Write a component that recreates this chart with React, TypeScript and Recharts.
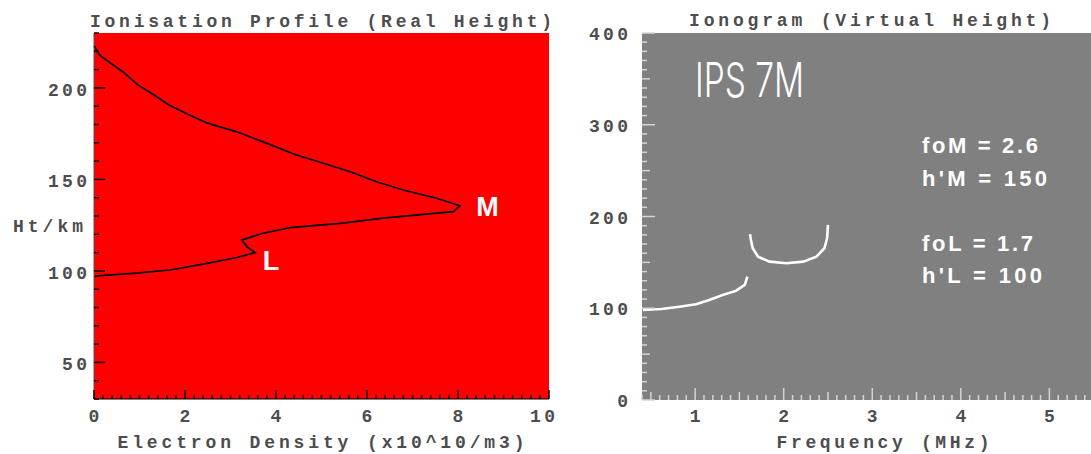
import { LineChart, Line, XAxis, YAxis, ReferenceDot } from "recharts"

// ionisation profile: electron density (x10^10/m3) against real height (km)
const profileDensity = [0, 0.13, 0.64, 0.97, 1.27, 1.63, 2.11, 2.51, 3.14, 3.72, 4.45, 5.04, 5.63, 6.21, 6.8, 7.53, 8.04, 7.9, 7.24, 6.36, 5.41, 4.31, 3.72, 3.25, 3.36, 3.54, 3.14, 2.4, 1.67, 0.86, 0.13, 0]
const profileHeight = [223, 217.8, 208.7, 201.5, 196.9, 190.9, 185.1, 180.6, 176, 170.5, 163.3, 158.8, 154.2, 148.7, 144.2, 139.7, 135.6, 132.4, 130.9, 128.8, 126, 123.6, 120.6, 116.9, 113.3, 110, 107.3, 103.7, 100.5, 98.7, 97.4, 96.9]

// ionogram traces: frequency (MHz) against virtual height (km)
const lFreq = [0.41, 0.62, 0.82, 1.01, 1.16, 1.31, 1.46, 1.56, 1.59]
const lHeight = [98.1, 99.2, 101.7, 104.3, 109, 114.5, 118.9, 125.4, 134.5]
const mFreq = [1.62, 1.63, 1.65, 1.71, 1.84, 2.03, 2.22, 2.37, 2.46, 2.49, 2.5]
const mHeight = [180.7, 174.5, 165.4, 156.3, 150.8, 149, 150.8, 156.3, 165.4, 176.3, 190.8]

const layerLabels = [
  { name: "M", ne: 8.65, h: 135.5 },
  { name: "L", ne: 3.89, h: 106 },
]
const paramLines = ["foM = 2.6", "h'M = 150", "foL = 1.7", "h'L = 100"]

const profileXTicks = Array.from({ length: 51 }, (_, i) => +(i * 0.2).toFixed(1))
const profileYTicks = Array.from({ length: 21 }, (_, i) => 30 + i * 10)
const ionoXTicks = Array.from({ length: 51 }, (_, i) => +(0.4 + i * 0.1).toFixed(1))
const ionoYTicks = Array.from({ length: 41 }, (_, i) => i * 10)

const profile = profileDensity.map((ne, i) => ({ ne, h: profileHeight[i] }))
const lTrace = lFreq.map((f, i) => ({ f, h: lHeight[i] }))
const mTrace = mFreq.map((f, i) => ({ f, h: mHeight[i] }))

const MONO = "'Liberation Mono', 'DejaVu Sans Mono', monospace"
const SANS = "'Liberation Sans', Arial, sans-serif"
const TXT = "#4d4d4d"

const isMult = (v: number, step: number) => Math.abs(v / step - Math.round(v / step)) < 1e-6

function PixText({ x, y, children, anchor = "middle", len }: any) {
  return (
    <text
      x={x}
      y={y}
      textAnchor={anchor}
      fontFamily={MONO}
      fontWeight="bold"
      fontSize={18}
      fill={TXT}
      textLength={len}
      lengthAdjust="spacing"
    >
      {children}
    </text>
  )
}

const labelLen = (s: string) => s.length * 14 - 3

// profile chart ticks (black, pointing into the plot)
function ProfileXTick(props: any) {
  const { top } = props
  const x = Number(props.x)
  const y = Number(props.y)
  const v = props.payload.value
  const major = isMult(v, 2)
  const len = major ? 9 : 4
  const dir = top ? 1 : -1
  const last = v === 10
  return (
    <g>
      <line x1={x} y1={y} x2={x} y2={y + dir * len} stroke="#000" strokeWidth={1.5} />
      {!top && major && (
        <PixText x={last ? x + 6 : x} y={y + 23} anchor={last ? "end" : "middle"} len={labelLen(String(v))}>
          {v}
        </PixText>
      )}
    </g>
  )
}

function ProfileYTick(props: any) {
  const { right } = props
  const x = Number(props.x)
  const y = Number(props.y)
  const v = props.payload.value
  const major = isMult(v, 50)
  const len = major ? 11 : 5
  const dir = right ? -1 : 1
  return (
    <g>
      <line x1={x} y1={y} x2={x + dir * len} y2={y} stroke="#000" strokeWidth={1.5} />
      {!right && major && (
        <PixText x={x - 7} y={y + 8} anchor="end" len={labelLen(String(v))}>
          {v}
        </PixText>
      )}
    </g>
  )
}

// ionogram ticks (light grey)
function IonoXTick(props: any) {
  const { top } = props
  const x = Number(props.x)
  const y = Number(props.y)
  const v = props.payload.value
  const len = isMult(v, 1) ? 12 : isMult(v, 0.5) ? 8 : 5
  const dir = top ? 1 : -1
  return (
    <g>
      <line x1={x} y1={y} x2={x} y2={y + dir * len} stroke="#d4d4d4" strokeWidth={1.5} />
      {!top && isMult(v, 1) && (
        <PixText x={x} y={y + 22} len={labelLen(String(v))}>
          {v}
        </PixText>
      )}
    </g>
  )
}

function IonoYTick(props: any) {
  const x = Number(props.x)
  const y = Number(props.y)
  const v = props.payload.value
  const len = isMult(v, 100) ? 13 : isMult(v, 50) ? 8 : 5
  return (
    <g>
      <line x1={x} y1={y} x2={x + len} y2={y} stroke="#d4d4d4" strokeWidth={1.5} />
      {isMult(v, 100) && (
        <PixText x={x - 14} y={y + 7} anchor="end" len={labelLen(String(v))}>
          {v}
        </PixText>
      )}
    </g>
  )
}

export default function App() {
  return (
    <div style={{ position: "absolute", left: 0, top: 0, width: 1091, height: 454, background: "#fff", overflow: "hidden" }}>
      {/* plot backgrounds, behind the transparent chart svgs */}
      <div style={{ position: "absolute", left: 94, top: 33, width: 455, height: 366, background: "#ff0000" }} />
      <div style={{ position: "absolute", left: 642, top: 33, width: 449, height: 367, background: "#808080" }} />

      <div style={{ position: "absolute", left: 0, top: 0 }}>
        <LineChart width={560} height={454} data={profile} margin={{ top: 33, right: 11, bottom: 0, left: 0 }}>
          <XAxis
            dataKey="ne"
            type="number"
            domain={[0, 10]}
            ticks={profileXTicks}
            interval={0}
            height={55}
            tickSize={0}
            tickMargin={0}
            tickLine={false}
            axisLine={{ stroke: "#000" }}
            tick={(p: any) => <ProfileXTick {...p} top={false} />}
          />
          <XAxis
            xAxisId="top"
            orientation="top"
            type="number"
            domain={[0, 10]}
            ticks={profileXTicks}
            interval={0}
            height={0}
            tickSize={0}
            tickMargin={0}
            tickLine={false}
            axisLine={{ stroke: "#000" }}
            tick={(p: any) => <ProfileXTick {...p} top />}
          />
          <YAxis
            type="number"
            domain={[30, 230]}
            ticks={profileYTicks}
            interval={0}
            width={94}
            tickSize={0}
            tickMargin={0}
            tickLine={false}
            axisLine={{ stroke: "#555" }}
            tick={(p: any) => <ProfileYTick {...p} right={false} />}
          />
          <YAxis
            yAxisId="right"
            orientation="right"
            type="number"
            domain={[30, 230]}
            ticks={profileYTicks}
            interval={0}
            width={0}
            tickSize={0}
            tickMargin={0}
            tickLine={false}
            axisLine={{ stroke: "#000" }}
            tick={(p: any) => <ProfileYTick {...p} right />}
          />
          <Line dataKey="h" type="linear" stroke="#000" strokeWidth={1.7} dot={false} isAnimationActive={false} />
          {layerLabels.map((l) => (
            <ReferenceDot
              key={l.name}
              x={l.ne}
              y={l.h}
              r={1}
              fill="none"
              stroke="none"
              label={{ value: l.name, position: "center", fill: "#fff", fontSize: 27, fontWeight: 700, fontFamily: SANS }}
            />
          ))}
        </LineChart>
      </div>

      <div style={{ position: "absolute", left: 560, top: 0 }}>
        <LineChart width={531} height={454} margin={{ top: 33, right: 0, bottom: 0, left: 0 }}>
          <XAxis
            dataKey="f"
            type="number"
            domain={[0.4, 5.47]}
            allowDataOverflow
            ticks={ionoXTicks}
            interval={0}
            height={54}
            tickSize={0}
            tickMargin={0}
            tickLine={false}
            axisLine={false}
            tick={(p: any) => <IonoXTick {...p} top={false} />}
          />
          <XAxis
            xAxisId="top"
            orientation="top"
            type="number"
            domain={[0.4, 5.47]}
            allowDataOverflow
            ticks={ionoXTicks}
            interval={0}
            height={0}
            tickSize={0}
            tickMargin={0}
            tickLine={false}
            axisLine={false}
            tick={(p: any) => <IonoXTick {...p} top />}
          />
          <YAxis
            type="number"
            domain={[0, 400]}
            ticks={ionoYTicks}
            interval={0}
            width={82}
            tickSize={0}
            tickMargin={0}
            tickLine={false}
            axisLine={false}
            tick={(p: any) => <IonoYTick {...p} />}
          />
          <Line data={lTrace} dataKey="h" type="linear" stroke="#fff" strokeWidth={2.6} dot={false} isAnimationActive={false} />
          <Line data={mTrace} dataKey="h" type="linear" stroke="#fff" strokeWidth={2.6} dot={false} isAnimationActive={false} />
        </LineChart>
      </div>

      <svg width={1091} height={454} style={{ position: "absolute", left: 0, top: 0, pointerEvents: "none" }}>
        <PixText x={321} y={27} len={462}>Ionisation Profile (Real Height)</PixText>
        <PixText x={321} y={448} len={407}>Electron Density (x10^10/m3)</PixText>
        <PixText x={48} y={232} len={70}>Ht/km</PixText>
        <PixText x={870} y={26} len={362}>Ionogram (Virtual Height)</PixText>
        <PixText x={883} y={448} len={213}>Frequency (MHz)</PixText>
        <text
          x={695}
          y={97}
          fill="#fff"
          fontFamily="Inter, 'DejaVu Sans', sans-serif"
          fontWeight={300}
          fontSize={48}
          textLength={109}
          lengthAdjust="spacingAndGlyphs"
        >
          IPS 7M
        </text>
        {paramLines.map((s, i) => (
          <text
            key={s}
            x={922}
            y={[153, 186, 251, 283][i]}
            fill="#fff"
            fontFamily={SANS}
            fontWeight="bold"
            fontSize={22}
            textLength={[116, 125, 111, 120][i]}
            lengthAdjust="spacing"
          >
            {s}
          </text>
        ))}
      </svg>
    </div>
  )
}
